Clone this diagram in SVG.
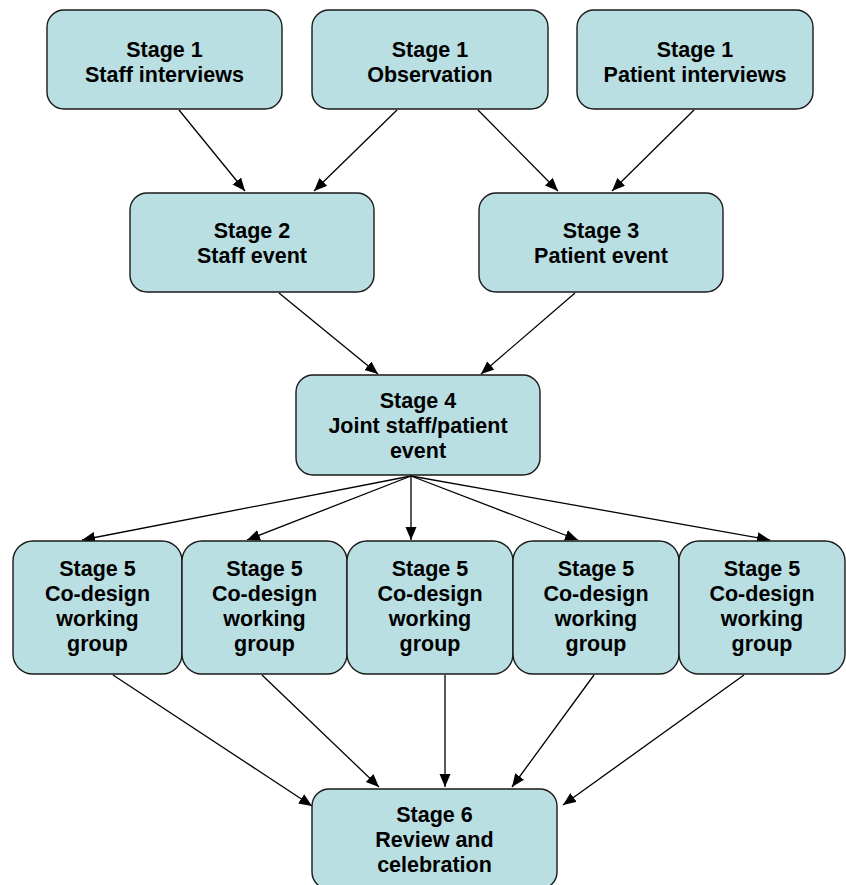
<svg xmlns="http://www.w3.org/2000/svg" width="846" height="885" viewBox="0 0 846 885">
<style>
.box{fill:#b9dfe2;stroke:#1a1a1a;stroke-width:1.4}
.t{font-family:"Liberation Sans",Arial,sans-serif;font-weight:bold;font-size:21.5px;fill:#000;text-anchor:middle}
.c{stroke:#000;stroke-width:1.3;fill:none;marker-end:url(#ah)}
</style>
<defs>
<marker id="ah" markerUnits="userSpaceOnUse" markerWidth="14" markerHeight="12" refX="13" refY="5.5" orient="auto">
<path d="M0,0 L13,5.5 L0,11 z" fill="#000"/>
</marker>
</defs>
<rect width="846" height="885" fill="#fff"/>
<g id="connectors">
<line class="c" x1="179" y1="110" x2="245" y2="191"/>
<line class="c" x1="397" y1="110" x2="314" y2="191"/>
<line class="c" x1="478" y1="110" x2="558" y2="191"/>
<line class="c" x1="694" y1="110" x2="612" y2="191"/>
<line class="c" x1="279" y1="293" x2="378" y2="374"/>
<line class="c" x1="575" y1="293" x2="481" y2="374"/>
<line class="c" x1="411" y1="476" x2="82" y2="540"/>
<line class="c" x1="411" y1="476" x2="247" y2="540"/>
<line class="c" x1="411" y1="476" x2="411" y2="540"/>
<line class="c" x1="411" y1="476" x2="578" y2="540"/>
<line class="c" x1="411" y1="476" x2="770" y2="540"/>
<line class="c" x1="113" y1="675" x2="312" y2="806"/>
<line class="c" x1="262" y1="675" x2="379" y2="787"/>
<line class="c" x1="445" y1="675" x2="445" y2="787"/>
<line class="c" x1="594" y1="675" x2="512" y2="787"/>
<line class="c" x1="744" y1="675" x2="563" y2="805"/>
</g>
<g id="n1"><rect class="box" x="47" y="10" width="235" height="99" rx="17"/><text class="t" x="164.5" y="57">Stage 1</text><text class="t" x="164.5" y="82">Staff interviews</text></g>
<g id="n2"><rect class="box" x="312" y="10" width="236" height="99" rx="17"/><text class="t" x="430" y="57">Stage 1</text><text class="t" x="430" y="82">Observation</text></g>
<g id="n3"><rect class="box" x="577" y="10" width="236" height="99" rx="17"/><text class="t" x="695" y="57">Stage 1</text><text class="t" x="695" y="82">Patient interviews</text></g>
<g id="n4"><rect class="box" x="130" y="193" width="244" height="99" rx="17"/><text class="t" x="252" y="238">Stage 2</text><text class="t" x="252" y="263">Staff event</text></g>
<g id="n5"><rect class="box" x="479" y="193" width="244" height="99" rx="17"/><text class="t" x="601" y="238">Stage 3</text><text class="t" x="601" y="263">Patient event</text></g>
<g id="n6"><rect class="box" x="296" y="375" width="244" height="100" rx="17"/><text class="t" x="418" y="408">Stage 4</text><text class="t" x="418" y="433">Joint staff/patient</text><text class="t" x="418" y="458">event</text></g>
<g id="n7"><rect class="box" x="13" y="541" width="169" height="133" rx="20"/><text class="t" x="97.5" y="576">Stage 5</text><text class="t" x="97.5" y="601">Co-design</text><text class="t" x="97.5" y="626">working</text><text class="t" x="97.5" y="651">group</text></g>
<g id="n8"><rect class="box" x="182" y="541" width="165" height="133" rx="20"/><text class="t" x="264.5" y="576">Stage 5</text><text class="t" x="264.5" y="601">Co-design</text><text class="t" x="264.5" y="626">working</text><text class="t" x="264.5" y="651">group</text></g>
<g id="n9"><rect class="box" x="347" y="541" width="166" height="133" rx="20"/><text class="t" x="430" y="576">Stage 5</text><text class="t" x="430" y="601">Co-design</text><text class="t" x="430" y="626">working</text><text class="t" x="430" y="651">group</text></g>
<g id="n10"><rect class="box" x="513" y="541" width="166" height="133" rx="20"/><text class="t" x="596" y="576">Stage 5</text><text class="t" x="596" y="601">Co-design</text><text class="t" x="596" y="626">working</text><text class="t" x="596" y="651">group</text></g>
<g id="n11"><rect class="box" x="679" y="541" width="166" height="133" rx="20"/><text class="t" x="762" y="576">Stage 5</text><text class="t" x="762" y="601">Co-design</text><text class="t" x="762" y="626">working</text><text class="t" x="762" y="651">group</text></g>
<g id="n12"><rect class="box" x="312" y="789" width="245" height="100" rx="17"/><text class="t" x="434.5" y="822">Stage 6</text><text class="t" x="434.5" y="847">Review and</text><text class="t" x="434.5" y="872">celebration</text></g>
</svg>
